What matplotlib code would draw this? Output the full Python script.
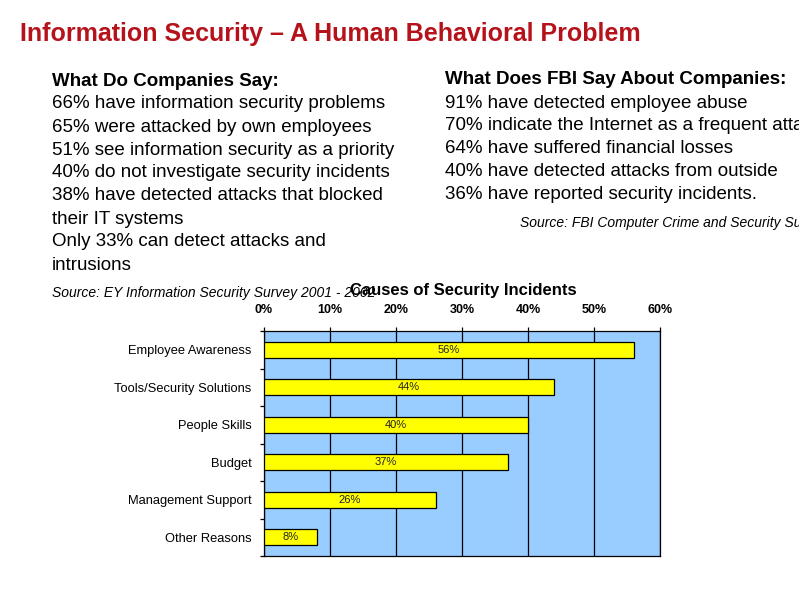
import matplotlib.pyplot as plt
import numpy as np

# Causes of security incidents (share of companies)
causes = ['Employee Awareness', 'Tools/Security Solutions', 'People Skills',
          'Budget', 'Management Support', 'Other Reasons']
shares = [56, 44, 40, 37, 26, 8]
x_ticks = [0, 10, 20, 30, 40, 50, 60]

company_lines = ['66% have information security problems',
                 '65% were attacked by own employees',
                 '51% see information security as a priority',
                 '40% do not investigate security incidents',
                 '38% have detected attacks that blocked',
                 'their IT systems',
                 'Only 33% can detect attacks and',
                 'intrusions']
fbi_lines = ['91% have detected employee abuse',
             '70% indicate the Internet as a frequent attack source',
             '64% have suffered financial losses',
             '40% have detected attacks from outside',
             '36% have reported security incidents.']

plt.rcParams['font.family'] = ['Liberation Sans', 'DejaVu Sans']

fig = plt.figure(figsize=(7.99, 5.98), dpi=100)
W, H = 799, 598

def px(x, y):
    return x / W, 1 - y / H

# slide title
fig.text(*px(20, 34), 'Information Security \u2013 A Human Behavioral Problem',
         color='#B5121B', fontsize=18, fontweight='bold', va='center')

# left text block
fig.text(*px(52, 81), 'What Do Companies Say:', fontsize=13.5, fontweight='bold', va='center')
for i, line in enumerate(company_lines):
    fig.text(*px(52, 104 + i * 23), line, fontsize=13.5, va='center')
fig.text(*px(52, 293), 'Source: EY Information Security Survey 2001 - 2002',
         fontsize=10, style='italic', va='center')

# right text block
fig.text(*px(445, 80), 'What Does FBI Say About Companies:', fontsize=13.5,
         fontweight='bold', va='center')
for i, line in enumerate(fbi_lines):
    fig.text(*px(445, 103 + i * 22.8), line, fontsize=13.5, va='center')
fig.text(*px(520, 223), 'Source: FBI Computer Crime and Security Survey',
         fontsize=10, style='italic', va='center')

# chart
ax = fig.add_axes([264 / W, 1 - 556 / H, 396 / W, 225 / H])
ax.set_facecolor('#99CCFF')
y = np.arange(len(causes))
bars = ax.barh(y, shares, height=0.43, color='#FFFF00', edgecolor='black',
               linewidth=0.9, zorder=3)
ax.bar_label(bars, labels=[f'{v}%' for v in shares], label_type='center',
             fontsize=8, color='#222222', zorder=4)

ax.set_xlim(0, 60)
ax.set_ylim(len(causes) - 0.5, -0.5)
ax.set_xticks(x_ticks)
ax.set_xticklabels([f'{t}%' for t in x_ticks], fontweight='bold', fontsize=9)
ax.xaxis.tick_top()
ax.tick_params(axis='x', direction='out', length=3, width=0.9, pad=8)
ax.grid(axis='x', color='black', linewidth=0.9, zorder=1)

ax.set_yticks(y)
ax.set_yticklabels(causes, fontsize=9.3)
ax.tick_params(axis='y', which='major', length=0, pad=9)
ax.set_yticks(np.arange(len(causes) + 1) - 0.5, minor=True)
ax.tick_params(axis='y', which='minor', direction='out', length=3, width=0.9)
for s in ax.spines.values():
    s.set_linewidth(0.9)

fig.text(*px(463, 291), 'Causes of Security Incidents', fontsize=12,
         fontweight='bold', ha='center', va='center')

fig.savefig('out.png', dpi=100)
